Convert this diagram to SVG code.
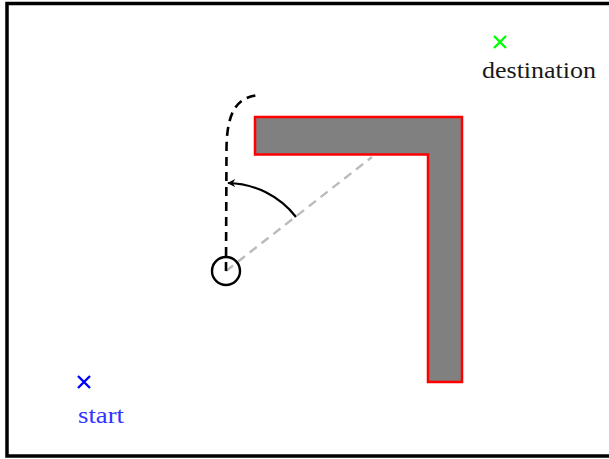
<svg xmlns="http://www.w3.org/2000/svg" width="609" height="459" viewBox="0 0 609 459">
<style>
.lbl{font-family:"Liberation Serif","DejaVu Serif",serif;font-size:24px}
.cross{stroke-width:2.4;fill:none}
</style>
<defs>
<marker id="arr" viewBox="0 0 10 10" refX="9" refY="5" markerWidth="9" markerHeight="8" orient="auto" markerUnits="userSpaceOnUse">
<path d="M0,0 L10,5 L0,10 L3,5 Z" fill="#000"/>
</marker>
</defs>
<rect x="0" y="0" width="609" height="459" fill="#fff"/>
<rect id="frame" x="7" y="3.5" width="610" height="452.5" fill="none" stroke="#000" stroke-width="3.5"/>
<g id="obstacle">
<polygon points="255,117 462,117 462,382 428,382 428,154.5 255,154.5" fill="#808080" stroke="#ff0000" stroke-width="2.5"/>
</g>
<g id="connectors">
<line x1="226" y1="271" x2="372" y2="157" stroke="#bbbbbb" stroke-width="2.4" stroke-dasharray="9,6"/>
<path d="M226,271 L226.5,148 C227,110 238,97 259,95" fill="none" stroke="#000" stroke-width="2.6" stroke-dasharray="9,6"/>
<path d="M296,217 A88,88 0 0 0 228,183" fill="none" stroke="#000" stroke-width="2.2" marker-end="url(#arr)"/>
</g>
<g id="robot">
<circle cx="226" cy="271" r="14" fill="none" stroke="#000" stroke-width="2.4"/>
</g>
<g id="destination">
<path class="cross" d="M494,36 L506,48 M506,36 L494,48" stroke="#00ff00"/>
<text class="lbl" x="539" y="78" text-anchor="middle" fill="#1a1a1a" textLength="114" lengthAdjust="spacingAndGlyphs">destination</text>
</g>
<g id="start">
<path class="cross" d="M78,376 L90,388 M90,376 L78,388" stroke="#0000ff"/>
<text class="lbl" x="101" y="423" text-anchor="middle" fill="#3333ff" textLength="46" lengthAdjust="spacingAndGlyphs">start</text>
</g>
</svg>
